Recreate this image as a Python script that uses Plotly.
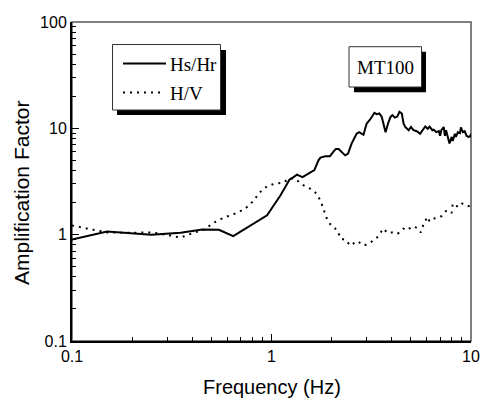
import plotly.graph_objects as go

# ---- data ----
hs_f = [0.1, 0.15, 0.25, 0.35, 0.45, 0.545, 0.643, 0.95, 1.11, 1.23,
        1.29, 1.34, 1.43, 1.53, 1.64, 1.72, 1.76, 1.86, 1.96, 2.04,
        2.10, 2.17, 2.25, 2.34, 2.42, 2.52, 2.67, 2.75, 2.89, 3.0,
        3.14, 3.28, 3.37, 3.47, 3.57, 3.66, 3.73, 3.84, 3.95, 4.04,
        4.15, 4.27, 4.38, 4.50, 4.59, 4.68, 4.87, 5.0, 5.15, 5.35,
        5.56, 5.74, 5.9, 6.07, 6.2, 6.4, 6.5, 6.7, 6.9, 7.0,
        7.1, 7.3, 7.4, 7.5, 7.7, 7.8, 8.0, 8.1, 8.3, 8.4,
        8.6, 8.8, 8.9, 9.1, 9.3, 9.5, 9.7, 9.9, 10.0]
hs_a = [0.90, 1.07, 1.00, 1.04, 1.12, 1.11, 0.97, 1.52, 2.35, 3.29,
        3.48, 3.67, 3.48, 3.77, 4.05, 5.0, 5.3, 5.45, 5.45, 6.0,
        6.4, 6.4, 5.98, 5.57, 5.78, 7.18, 8.9, 9.2, 8.7, 11.1,
        12.3, 14.0, 13.6, 13.8, 12.8, 10.3, 9.2, 11.1, 12.8, 13.3,
        12.6, 12.9, 14.3, 13.8, 11.1, 10.3, 9.6, 10.3, 9.6, 9.4,
        8.9, 9.7, 10.4, 9.9, 10.4, 9.6, 9.7, 9.2, 9.4, 8.5,
        9.6, 10.3, 8.5, 9.6, 7.7, 7.2, 8.3, 7.6, 8.9, 8.3,
        9.2, 9.0, 10.2, 9.2, 9.4, 8.5, 8.3, 8.4, 8.9]

hv_f = [0.1, 0.11, 0.128, 0.15, 0.188, 0.256, 0.30, 0.35, 0.407, 0.456,
        0.52, 0.574, 0.67, 0.74, 0.81, 0.87, 0.95, 1.04, 1.14, 1.23,
        1.31, 1.43, 1.56, 1.69, 1.77, 1.84, 1.90, 1.99, 2.14, 2.22,
        2.36, 2.48, 2.69, 2.91, 3.13, 3.38, 3.64, 3.81, 4.02, 4.29,
        4.58, 4.77, 5.1, 5.35, 5.6, 5.8, 6.05, 6.2, 6.6, 7.1,
        7.5, 7.8, 8.0, 8.1, 8.5, 8.9, 9.2, 9.4, 10.0]
hv_a = [1.22, 1.17, 1.11, 1.05, 1.04, 1.05, 1.0, 0.94, 1.04, 1.11,
        1.31, 1.44, 1.60, 1.76, 2.07, 2.48, 2.85, 3.02, 3.07, 3.37,
        3.37, 2.95, 2.71, 2.42, 2.03, 1.69, 1.39, 1.22, 1.10, 0.92,
        0.89, 0.79, 0.87, 0.79, 0.84, 0.94, 1.14, 1.04, 1.05, 1.02,
        1.14, 1.10, 1.20, 1.16, 1.05, 1.27, 1.47, 1.33, 1.43, 1.49,
        1.67, 1.67, 1.60, 1.96, 1.85, 2.0, 1.94, 1.88, 1.84]

series_names = ["Hs/Hr", "H/V"]
site_label = "MT100"
x_title = "Frequency (Hz)"
y_title = "Amplification Factor"
x_ticks = [0.1, 1, 10]
x_tick_text = ["0.1", "1", "10"]
y_ticks = [0.1, 1, 10, 100]
y_tick_text = ["0.1", "1", "10", "100"]

# ---- layout geometry (pixels) ----
W, H = 482, 401
L, R, T, B = 72, 11, 22, 60
PW, PH = W - L - R, H - T - B


def px(x):
    return (x - L) / PW


def py(y):
    return (H - B - y) / PH


SANS = "Liberation Sans, Arial, Helvetica, sans-serif"
SERIF = "Liberation Serif, Times New Roman, Times, serif"

fig = go.Figure()
fig.add_trace(go.Scatter(x=hs_f, y=hs_a, mode="lines", name=series_names[0],
                         line=dict(color="black", width=2)))
fig.add_trace(go.Scatter(x=hv_f, y=hv_a, mode="lines", name=series_names[1],
                         line=dict(color="black", width=2, dash="2px,5px")))

shapes = []
# plot frame (top/right lighter)
shapes.append(dict(type="rect", xref="paper", yref="paper", x0=0, x1=1, y0=0, y1=1,
                   line=dict(color="#555555", width=1.5), layer="below"))
# legend box with shadow
shapes.append(dict(type="rect", xref="paper", yref="paper",
                   x0=px(117), x1=px(226), y0=py(115), y1=py(50),
                   fillcolor="black", line=dict(width=0)))
shapes.append(dict(type="rect", xref="paper", yref="paper",
                   x0=px(112.5), x1=px(220.5), y0=py(110), y1=py(44.5),
                   fillcolor="white", line=dict(color="#333333", width=1)))
shapes.append(dict(type="line", xref="paper", yref="paper",
                   x0=px(123), x1=px(166), y0=py(63.5), y1=py(63.5),
                   line=dict(color="black", width=2)))
shapes.append(dict(type="line", xref="paper", yref="paper",
                   x0=px(123), x1=px(162), y0=py(92.5), y1=py(92.5),
                   line=dict(color="black", width=2, dash="2px,5px")))
# site label box with shadow
shapes.append(dict(type="rect", xref="paper", yref="paper",
                   x0=px(354), x1=px(426), y0=py(92.3), y1=py(51.7),
                   fillcolor="black", line=dict(width=0)))
shapes.append(dict(type="rect", xref="paper", yref="paper",
                   x0=px(349), x1=px(421.5), y0=py(87), y1=py(46.7),
                   fillcolor="white", line=dict(color="#333333", width=1)))

annotations = [
    dict(text=series_names[0], xref="paper", yref="paper", x=px(168), y=py(64),
         xanchor="left", yanchor="middle", showarrow=False,
         font=dict(family=SERIF, size=19, color="black")),
    dict(text=series_names[1], xref="paper", yref="paper", x=px(168), y=py(93),
         xanchor="left", yanchor="middle", showarrow=False,
         font=dict(family=SERIF, size=19, color="black")),
    dict(text=site_label, xref="paper", yref="paper", x=px(385.5), y=py(67.5),
         xanchor="center", yanchor="middle", showarrow=False,
         font=dict(family=SERIF, size=19, color="black")),
    dict(text=y_title, xref="paper", yref="paper", x=px(21), y=py(193),
         xanchor="center", yanchor="middle", showarrow=False, textangle=-90,
         font=dict(family=SANS, size=21, color="black")),
    dict(text=x_title, xref="paper", yref="paper", x=px(271.5), y=py(387),
         xanchor="center", yanchor="middle", showarrow=False,
         font=dict(family=SANS, size=20, color="black")),
]

axis_common = dict(type="log", showgrid=False, zeroline=False, automargin=False,
                   showline=True, linecolor="black", linewidth=2,
                   ticks="inside", ticklen=7, tickwidth=1.3, tickcolor="black",
                   tickfont=dict(family=SANS, size=16, color="black"),
                   minor=dict(ticks="inside", ticklen=4, tickwidth=1.2,
                              tickcolor="black", dtick="D1", showgrid=False))

fig.update_layout(
    width=W, height=H,
    margin=dict(l=L, r=R, t=T, b=B, pad=0, autoexpand=False),
    paper_bgcolor="white", plot_bgcolor="white",
    showlegend=False,
    shapes=shapes, annotations=annotations,
    xaxis=dict(axis_common, range=[-1, 1], tickvals=x_ticks, ticktext=x_tick_text),
    yaxis=dict(axis_common, range=[-1, 2], tickvals=y_ticks, ticktext=y_tick_text),
)

fig.write_html("out.html", config={"displayModeBar": False},
               post_script="document.body.style.margin='0';")
